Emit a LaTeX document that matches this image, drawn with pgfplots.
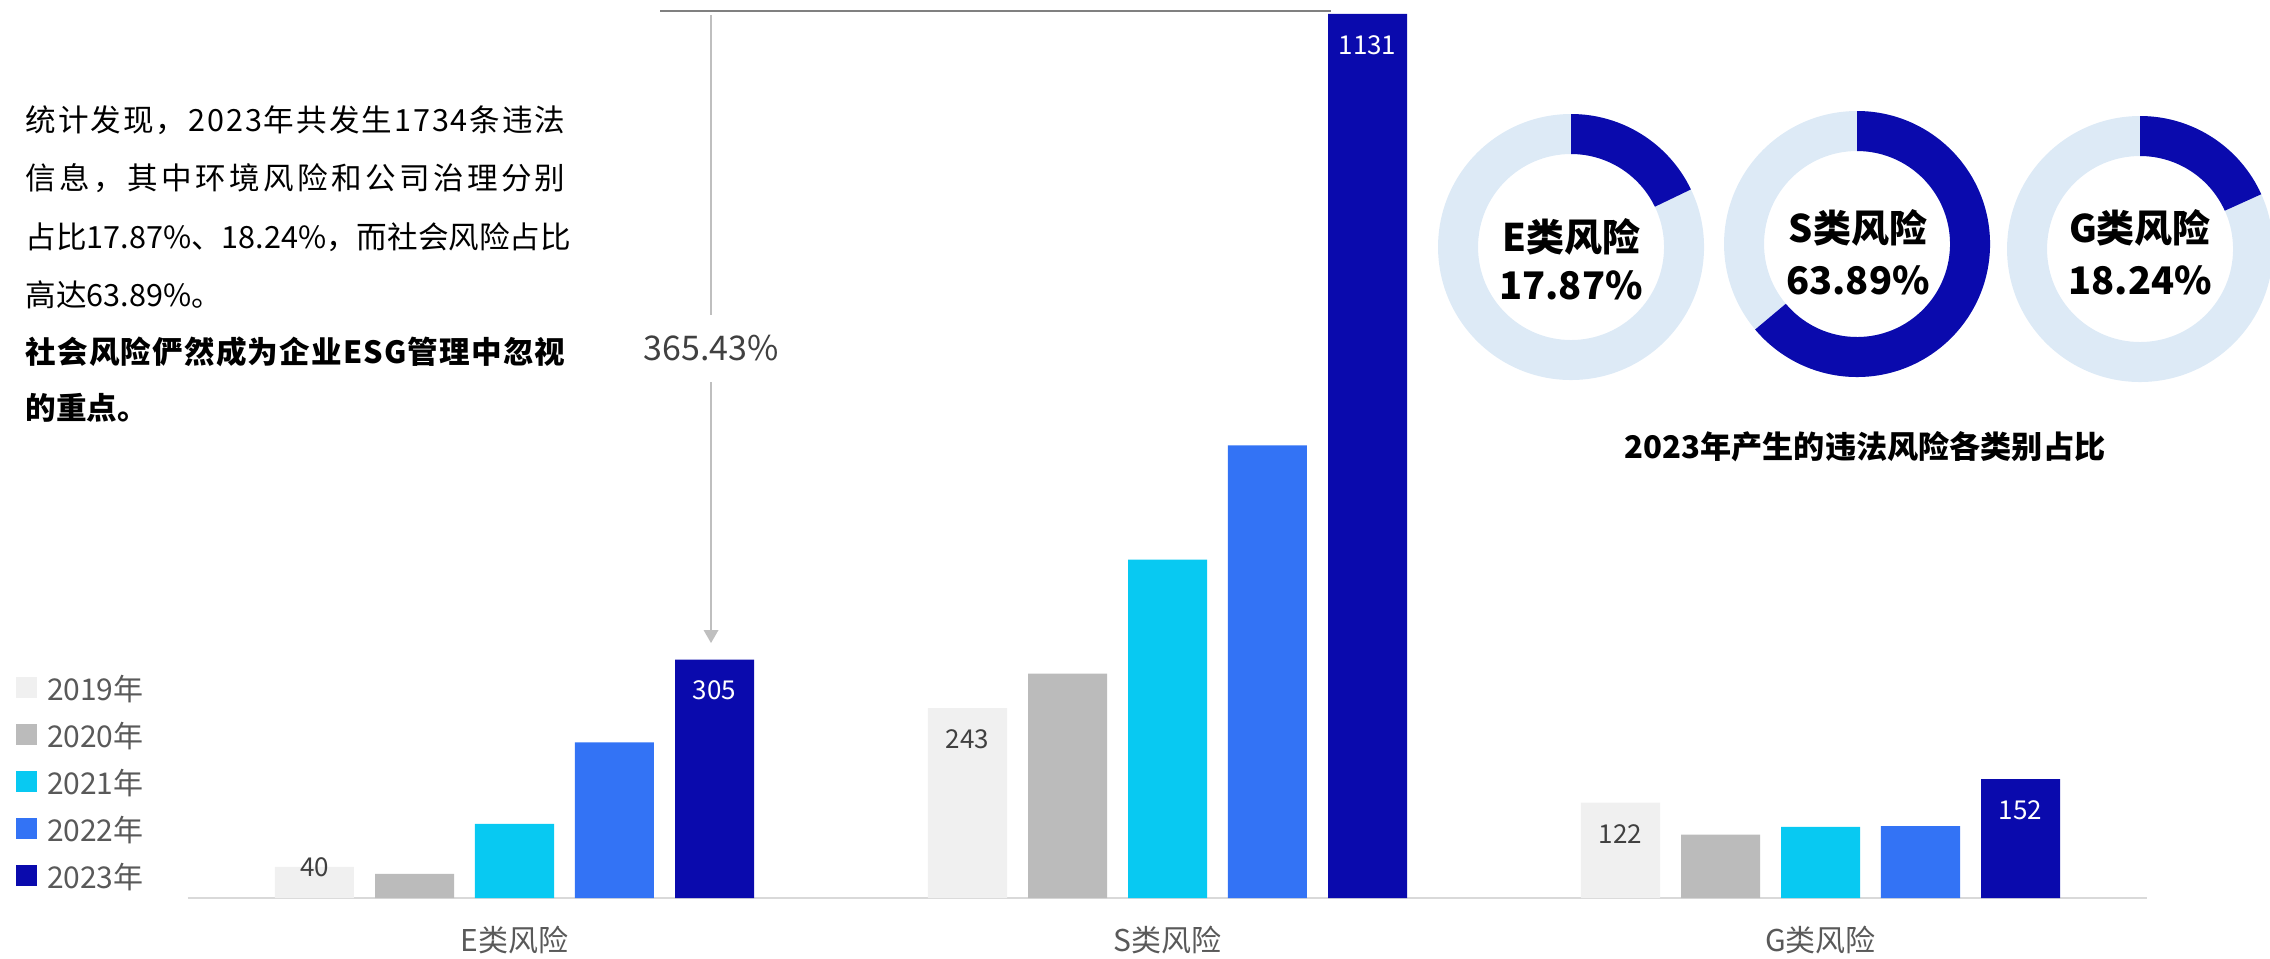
\documentclass[border=0pt]{standalone}
\usepackage{pgfplots}
\pgfplotsset{compat=1.18}
\usepackage{fontspec}
\setmainfont{Noto Sans CJK SC}

\definecolor{c2019}{HTML}{F0F0F0}
\definecolor{c2020}{HTML}{BBBBBB}
\definecolor{c2021}{HTML}{08C9F2}
\definecolor{c2022}{HTML}{3373F5}
\definecolor{c2023}{HTML}{0A0AAD}
\definecolor{ringlight}{HTML}{DDEAF6}
\definecolor{axisgray}{HTML}{D9D9D9}
\definecolor{labelgray}{HTML}{595959}
\definecolor{valgray}{HTML}{404040}
\definecolor{annodark}{HTML}{808080}
\definecolor{annolight}{HTML}{BFBFBF}

% 1 px of the reference = 0.35pt
\newcommand\pfont{\fontsize{10.7pt}{12pt}\selectfont}
\newcommand\dfont{\fontsize{13.3pt}{15pt}\selectfont\bfseries}

% distributed justification: glue between every character
\def\spreadline#1{\makebox[189pt][s]{\spx#1\relax}}
\def\spx#1{\ifx#1\relax\else#1\expandafter\spy\fi}
\def\spy#1{\ifx#1\relax\else\hfil#1\expandafter\spy\fi}

\pgfplotsset{
  sqlegend/.style={legend image code/.code={\fill[##1] (0pt,0.1pt) rectangle (7.35pt,7.45pt);}},
  barval/.style={point meta=explicit symbolic, nodes near coords,
    every node near coord/.append style={anchor=center, yshift=#1,
      font=\fontsize{9.1pt}{11pt}\selectfont}},
}

% donut: cx, cy (px), share in percent
\newcommand\donut[3]{%
  \begin{scope}[shift={(#1*0.35pt,-#2*0.35pt)}, x=0.35pt, y=0.35pt]
    \fill[ringlight, even odd rule] (0,0) circle[radius=133] (0,0) circle[radius=93];
    \fill[c2023] (90:133) arc[start angle=90, delta angle=-3.6*#3, radius=133]
      -- ({90-3.6*#3}:93) arc[start angle={90-3.6*#3}, delta angle=3.6*#3, radius=93] -- cycle;
  \end{scope}}

\begin{document}
\begin{tikzpicture}

\donut{1571}{247}{17.87}
\donut{1857}{244}{63.89}
\donut{2140}{249}{18.24}

\begin{scope}[x=0.35pt, y=-0.35pt]
  % text block
  \node[anchor=base west, inner sep=0pt, font=\pfont] at (25,131) {\spreadline{统计发现，2023年共发生1734条违法}};
  \node[anchor=base west, inner sep=0pt, font=\pfont] at (25,189) {\spreadline{信息，其中环境风险和公司治理分别}};
  \node[anchor=base west, inner sep=0pt, font=\pfont] at (25,248) {\spreadline{占比17.87\%、18.24\%，而社会风险占比}};
  \node[anchor=base west, inner sep=0pt, font=\pfont] at (25,306) {高达63.89\%。};
  \node[anchor=base west, inner sep=0pt, font=\pfont\bfseries] at (25,363) {\spreadline{社会风险俨然成为企业ESG管理中忽视}};
  \node[anchor=base west, inner sep=0pt, font=\pfont\bfseries] at (25,419) {的重点。};

  % growth annotation
  \draw[annodark, line width=0.6pt] (660,10.7) -- (1331,10.7);
  \draw[annolight, line width=0.4pt] (711,15) -- (711,315);
  \draw[annolight, line width=0.4pt] (711,382) -- (711,631);
  \fill[annolight] (703.5,630) -- (718.5,630) -- (711,643) -- cycle;
  \node[font=\fontsize{11.9pt}{14pt}\selectfont, text=valgray] at (711,348) {365.43\%};

  % donut texts
  \node[font=\dfont] at (1571,237) {E类风险};
  \node[font=\dfont] at (1571,285) {17.87\%};
  \node[font=\dfont] at (1858,228) {S类风险};
  \node[font=\dfont] at (1858,280) {63.89\%};
  \node[font=\dfont] at (2140,228) {G类风险};
  \node[font=\dfont] at (2140,280) {18.24\%};
  \node[font=\fontsize{10.9pt}{13pt}\selectfont\bfseries] at (1865,447) {2023年产生的违法风险各类别占比};
\end{scope}

\begin{axis}[
  at={(65.8pt,-314.3pt)}, anchor=south west,
  scale only axis, width=685.65pt, height=314.3pt,
  xmin=-0.5, xmax=2.5, ymin=0, ymax=1148.9,
  axis x line*=bottom, axis y line=none,
  x axis line style={draw=axisgray, line width=0.7pt},
  xtick={0,1,2}, xticklabels={E类风险,S类风险,G类风险},
  major tick length=0pt, xtick style={draw=none},
  xticklabel style={anchor=center, yshift=-14.7pt, text=labelgray,
    font=\fontsize{10.5pt}{12pt}\selectfont},
  ytick=\empty,
  clip=false,
  legend cell align=left,
  legend style={at={(-0.0878,0.2483)}, anchor=north west, draw=none, fill=none,
    inner sep=0pt, outer sep=0pt, row sep=0pt, text=labelgray,
    font=\fontsize{10.5pt}{12pt}\selectfont,
    nodes={inner sep=0pt, text height=9pt, text depth=7.45pt},
    /tikz/every odd column/.append style={column sep=3.5pt}},
]
\addplot[ybar, bar width=0.121, fill=c2019, draw=none, sqlegend,
  barval=-10.85pt, nodes near coords style={text=valgray}]
  coordinates {(-0.3063,40) [{}] (0.6937,243) [243] (1.6937,122) [122]};
\addplot[ybar, bar width=0.121, fill=c2020, draw=none, sqlegend]
  coordinates {(-0.1531,31) (0.8469,287) (1.8469,81)};
\addplot[ybar, bar width=0.121, fill=c2021, draw=none, sqlegend]
  coordinates {(0,95) (1,433) (2,91)};
\addplot[ybar, bar width=0.121, fill=c2022, draw=none, sqlegend]
  coordinates {(0.1531,199) (1.1531,579) (2.1531,92)};
\addplot[ybar, bar width=0.121, fill=c2023, draw=none, sqlegend,
  barval=-10.85pt, nodes near coords style={text=white}]
  coordinates {(0.3063,305) [305] (1.3063,1131) [1131] (2.3063,152) [152]};
% the short E 2019 bar carries its label at its top
\addplot[forget plot, draw=none, mark=none, barval=0pt,
  nodes near coords style={text=valgray}]
  coordinates {(-0.3063,40) [40]};
\legend{2019年,2020年,2021年,2022年,2023年}
\end{axis}

\pgfresetboundingbox
\path[use as bounding box] (0,0) rectangle (794.5pt,-335.3pt);
\end{tikzpicture}
\end{document}
